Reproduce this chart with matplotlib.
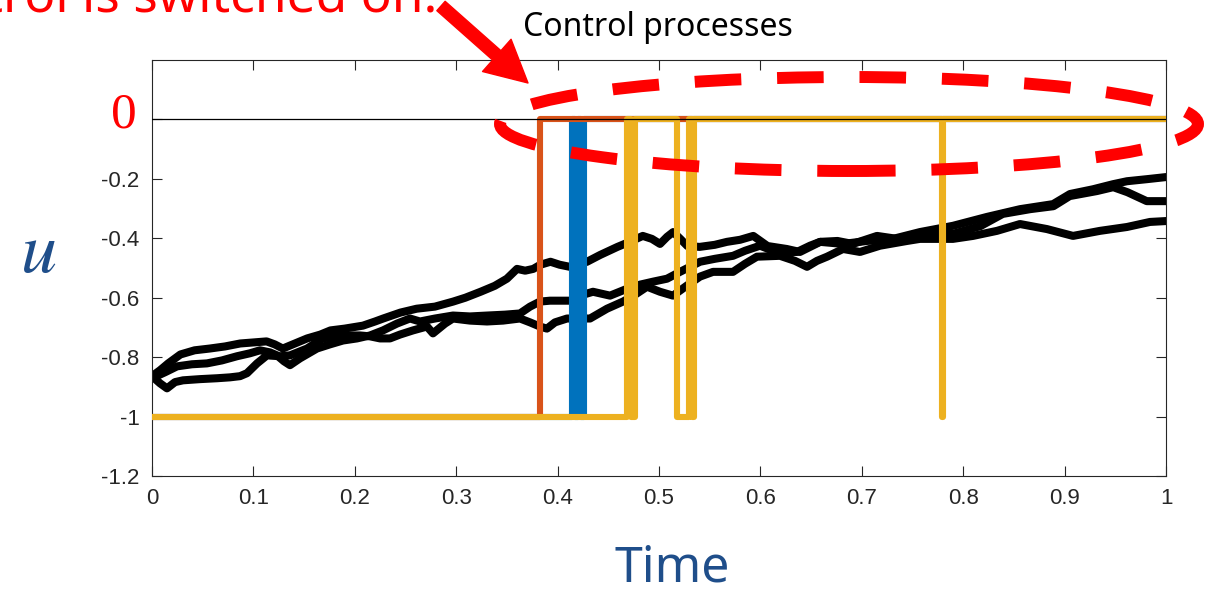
import numpy as np
import matplotlib
matplotlib.use("Agg")
import matplotlib.pyplot as plt
from matplotlib.patches import Ellipse, FancyArrowPatch
from matplotlib.transforms import IdentityTransform

# ---- state trajectories (three sample paths) ----
path_a_t = [0, 0.008, 0.016, 0.028, 0.042, 0.057, 0.072, 0.087, 0.102, 0.113,
            0.121, 0.129, 0.141, 0.153, 0.166, 0.176, 0.190, 0.208, 0.220, 0.228,
            0.245, 0.261, 0.279, 0.297, 0.309, 0.324, 0.338, 0.350, 0.360, 0.368,
            0.376, 0.383, 0.393, 0.402, 0.412, 0.429, 0.442, 0.459, 0.471, 0.484,
            0.493, 0.501, 0.508, 0.514, 0.521, 0.528, 0.540, 0.555, 0.567, 0.580,
            0.593, 0.607, 0.626, 0.639, 0.659, 0.676, 0.691, 0.715, 0.735, 0.757,
            0.790, 0.817, 0.839, 0.866, 0.889, 0.905, 0.932, 0.948, 0.962, 0.981, 1.0]
path_a_u = [-0.864, -0.844, -0.821, -0.791, -0.777, -0.771, -0.764, -0.754, -0.750, -0.747,
            -0.757, -0.771, -0.754, -0.737, -0.724, -0.710, -0.704, -0.694, -0.680, -0.670,
            -0.650, -0.637, -0.630, -0.613, -0.600, -0.580, -0.560, -0.536, -0.503, -0.509,
            -0.503, -0.489, -0.479, -0.489, -0.496, -0.479, -0.456, -0.429, -0.412, -0.392,
            -0.402, -0.419, -0.395, -0.379, -0.402, -0.426, -0.429, -0.422, -0.412, -0.405,
            -0.392, -0.426, -0.436, -0.446, -0.412, -0.409, -0.419, -0.392, -0.402, -0.385,
            -0.385, -0.359, -0.318, -0.302, -0.292, -0.258, -0.241, -0.228, -0.245, -0.275, -0.275]

path_b_t = [0, 0.0128, 0.0247, 0.0394, 0.0542, 0.0690, 0.0838, 0.0966, 0.1065, 0.1164,
            0.1233, 0.1302, 0.1361, 0.1460, 0.1627, 0.1755, 0.1884, 0.2022, 0.2150, 0.2278,
            0.2416, 0.2544, 0.2643, 0.2791, 0.2968, 0.3136, 0.3304, 0.3481, 0.3629, 0.3728,
            0.3826, 0.3925, 0.4122, 0.4221, 0.4349, 0.4517, 0.4684, 0.4813, 0.4941, 0.5079,
            0.5207, 0.5306, 0.5404, 0.5552, 0.5730, 0.5848, 0.5996, 0.6124, 0.6243, 0.6361,
            0.6489, 0.6588, 0.6815, 0.7051, 0.7308, 0.7574, 0.7899, 0.8235, 0.8560, 0.8886,
            0.9053, 0.9280, 0.9477, 0.9615, 0.9813, 1.0]
path_b_u = [-0.871, -0.851, -0.831, -0.824, -0.821, -0.811, -0.797, -0.787, -0.777, -0.784,
            -0.794, -0.814, -0.827, -0.804, -0.771, -0.757, -0.744, -0.737, -0.727, -0.710,
            -0.687, -0.670, -0.680, -0.670, -0.660, -0.663, -0.660, -0.657, -0.653, -0.630,
            -0.613, -0.610, -0.610, -0.593, -0.580, -0.593, -0.570, -0.556, -0.546, -0.536,
            -0.513, -0.496, -0.479, -0.469, -0.459, -0.442, -0.425, -0.442, -0.446, -0.446,
            -0.425, -0.412, -0.419, -0.409, -0.402, -0.379, -0.358, -0.328, -0.302, -0.285,
            -0.251, -0.235, -0.218, -0.208, -0.201, -0.194]

path_c_t = [0, 0.0079, 0.0148, 0.0227, 0.0306, 0.0473, 0.0641, 0.0769, 0.0868, 0.0937,
            0.1036, 0.1134, 0.1262, 0.1361, 0.1529, 0.1607, 0.1686, 0.1824, 0.1953, 0.2051,
            0.2150, 0.2249, 0.2347, 0.2446, 0.2574, 0.2712, 0.2771, 0.2890, 0.2968, 0.3136,
            0.3304, 0.3462, 0.3629, 0.3728, 0.3826, 0.3895, 0.3974, 0.4093, 0.4320, 0.4487,
            0.4645, 0.4763, 0.4882, 0.5010, 0.5138, 0.5276, 0.5404, 0.5533, 0.5730, 0.5848,
            0.5966, 0.6193, 0.6341, 0.6460, 0.6558, 0.6657, 0.6815, 0.6982, 0.7179, 0.7446,
            0.7574, 0.7899, 0.8097, 0.8333, 0.8560, 0.8826, 0.9083, 0.9349, 0.9615, 0.9842, 1.0]
path_c_u = [-0.864, -0.888, -0.905, -0.884, -0.878, -0.874, -0.871, -0.868, -0.864, -0.854,
            -0.821, -0.794, -0.797, -0.794, -0.771, -0.754, -0.737, -0.730, -0.727, -0.727,
            -0.730, -0.737, -0.737, -0.724, -0.710, -0.697, -0.720, -0.687, -0.670, -0.677,
            -0.680, -0.677, -0.670, -0.683, -0.697, -0.704, -0.683, -0.670, -0.670, -0.637,
            -0.613, -0.590, -0.563, -0.580, -0.593, -0.559, -0.529, -0.513, -0.513, -0.486,
            -0.462, -0.459, -0.476, -0.496, -0.476, -0.462, -0.436, -0.446, -0.425, -0.409,
            -0.402, -0.402, -0.392, -0.375, -0.352, -0.369, -0.392, -0.375, -0.362, -0.345, -0.342]

# ---- control processes: switching times between -1 (off) and 0 (on) ----
blue_switches = [0.4145, 0.4175, 0.4205, 0.4235, 0.4262]
orange_switches = [0.383]
yellow_switches = [0.4685, 0.4725, 0.4760, 0.5180, 0.5295, 0.5325, 0.5345, 0.7795, 0.7800]
control_low, control_high = -1.0, 0.0

x_ticks = [0, 0.1, 0.2, 0.3, 0.4, 0.5, 0.6, 0.7, 0.8, 0.9, 1.0]
x_tick_labels = ["0", "0.1", "0.2", "0.3", "0.4", "0.5", "0.6", "0.7", "0.8", "0.9", "1"]
y_ticks = [-1.2, -1.0, -0.8, -0.6, -0.4, -0.2, 0.0]
y_tick_labels = ["-1.2", "-1", "-0.8", "-0.6", "-0.4", "-0.2", ""]


def switching_path(switches, low, high):
    """Piecewise-constant control signal starting at `low`, toggling at each switch."""
    xs, ys = [0.0], [low]
    level = low
    for s in switches:
        new = high if level == low else low
        xs += [s, s]
        ys += [level, new]
        level = new
    xs.append(1.0)
    ys.append(level)
    return xs, ys


W, H = 1216, 592
fig = plt.figure(figsize=(W / 100, H / 100), dpi=100)
fig.patch.set_facecolor("white")
ax = fig.add_axes([152 / W, 1 - 476 / H, (1166 - 152) / W, (476 - 60) / H])

line_kw = dict(solid_joinstyle="round", solid_capstyle="round")
for t, u in [(path_a_t, path_a_u), (path_b_t, path_b_u), (path_c_t, path_c_u)]:
    ax.plot(t, u, color="black", lw=5.8, zorder=2, **line_kw)

for switches, col, z in [(blue_switches, "#0072BD", 3),
                         (orange_switches, "#D95319", 4),
                         (yellow_switches, "#EDB120", 5)]:
    xs, ys = switching_path(switches, control_low, control_high)
    ax.plot(xs, ys, color=col, lw=4.4, zorder=z, **line_kw)

ax.axhline(0, color="black", lw=0.9, zorder=6)

ax.set_xlim(0, 1)
ax.set_ylim(-1.2, 0.2)
ax.set_xticks(x_ticks)
ax.set_xticklabels(x_tick_labels)
ax.set_yticks(y_ticks)
ax.set_yticklabels(y_tick_labels)
ax.tick_params(direction="in", length=7, width=0.8, color="#262626",
               top=True, right=True, labelsize=16, labelcolor="#262626")
ax.tick_params(axis="x", pad=9)
ax.tick_params(axis="y", pad=9)
for lab in ax.get_xticklabels() + ax.get_yticklabels():
    lab.set_fontfamily("Liberation Sans")
for sp in ax.spines.values():
    sp.set_color("#262626")
    sp.set_linewidth(0.8)

# ---- annotations ----
blue_text = "#1F4E8A"
fig.text(124 / W, 1 - 128 / H, "0", color="red", fontsize=37,
         family="Liberation Serif", ha="center", va="baseline")
fig.text(38 / W, 1 - 272 / H, r"$u$", color=blue_text, fontsize=52,
         ha="center", va="baseline", math_fontfamily="stix")
fig.text(672 / W, 1 - 582 / H, "Time", color=blue_text, fontsize=36,
         family="Noto Sans", ha="center", va="baseline")
fig.text(658 / W, 1 - 36 / H, "Control processes", color="black", fontsize=23,
         family="Noto Sans", ha="center", va="baseline")
fig.text(437 / W, 1 - 11 / H, "Control is switched on.", color="red", fontsize=37,
         family="Noto Sans", ha="right", va="baseline")

arrow = FancyArrowPatch(posA=(441, H - 6), posB=(528, H - 83),
                        arrowstyle="simple,head_length=1.5,head_width=1.55,tail_width=0.45",
                        mutation_scale=20, color="red", shrinkA=0, shrinkB=0,
                        transform=IdentityTransform(), zorder=10)
fig.add_artist(arrow)

ring = Ellipse((849, H - 124), 698, 94, fill=False, edgecolor="red", lw=8.6,
               linestyle=(0, (3.9, 3.0)), capstyle="butt",
               transform=IdentityTransform(), zorder=10)
fig.add_artist(ring)

fig.savefig("out.png", dpi=100)
